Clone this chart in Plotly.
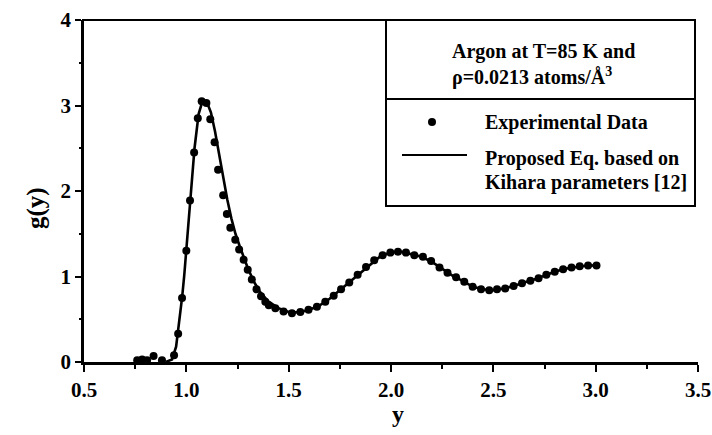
import plotly.graph_objects as go

# ---- data ----
exp_x = [0.760, 0.784, 0.808, 0.840, 0.881, 0.940, 0.960, 0.979, 1.000, 1.018, 1.038, 1.056,
         1.075, 1.098, 1.117, 1.138, 1.155, 1.180, 1.198, 1.215, 1.239, 1.258, 1.280, 1.300,
         1.320, 1.343, 1.365, 1.386, 1.403, 1.435, 1.475, 1.516, 1.557, 1.597, 1.638, 1.679,
         1.720, 1.756, 1.796, 1.837, 1.878, 1.918, 1.959, 1.997, 2.034, 2.073, 2.114, 2.156,
         2.196, 2.237, 2.276, 2.318, 2.358, 2.399, 2.440, 2.480, 2.518, 2.558, 2.599, 2.640,
         2.681, 2.721, 2.759, 2.800, 2.841, 2.882, 2.922, 2.963, 3.004]
exp_g = [0.02, 0.03, 0.02, 0.07, 0.02, 0.08, 0.33, 0.75, 1.30, 1.89, 2.45, 2.85,
         3.05, 3.03, 2.84, 2.57, 2.25, 1.95, 1.73, 1.57, 1.43, 1.315, 1.195, 1.08,
         0.965, 0.85, 0.77, 0.705, 0.665, 0.63, 0.59, 0.57, 0.585, 0.61, 0.647, 0.705,
         0.776, 0.85, 0.93, 1.02, 1.11, 1.19, 1.25, 1.28, 1.29, 1.28, 1.25, 1.23,
         1.18, 1.105, 1.045, 0.99, 0.94, 0.88, 0.85, 0.84, 0.85, 0.86, 0.89, 0.92,
         0.95, 0.98, 1.02, 1.056, 1.084, 1.106, 1.12, 1.13, 1.13]

line_x = [0.90, 0.93, 0.95, 0.96, 0.97, 0.98, 0.99, 1.00, 1.02, 1.04, 1.06, 1.08, 1.10, 1.12,
          1.14, 1.16, 1.18, 1.20, 1.22, 1.24, 1.26, 1.28, 1.30, 1.33, 1.36, 1.40, 1.45, 1.50,
          1.55, 1.60, 1.65, 1.70, 1.75, 1.80, 1.85, 1.90, 1.95, 2.00, 2.05, 2.10, 2.15, 2.20,
          2.25, 2.30, 2.35, 2.40, 2.45, 2.50, 2.55, 2.60, 2.65, 2.70, 2.75, 2.80, 2.85, 2.90,
          2.95, 3.00]
line_g = [0.00, 0.03, 0.18, 0.36, 0.55, 0.77, 1.02, 1.30, 1.95, 2.50, 2.90, 3.06, 3.04, 2.92,
          2.70, 2.43, 2.15, 1.90, 1.68, 1.50, 1.36, 1.22, 1.10, 0.94, 0.82, 0.71, 0.63, 0.585,
          0.58, 0.61, 0.66, 0.74, 0.84, 0.94, 1.05, 1.15, 1.24, 1.28, 1.29, 1.26, 1.23, 1.17,
          1.09, 1.01, 0.95, 0.88, 0.85, 0.84, 0.86, 0.89, 0.93, 0.965, 1.01, 1.056, 1.09, 1.11,
          1.125, 1.13]

x_ticks = [0.5, 1.0, 1.5, 2.0, 2.5, 3.0, 3.5]
x_ticktext = ["0.5", "1.0", "1.5", "2.0", "2.5", "3.0", "3.5"]
y_ticks = [0, 1, 2, 3, 4]
y_ticktext = ["0", "1", "2", "3", "4"]

legend_title = ["Argon at T=85 K and", "ρ=0.0213 atoms/Å<sup>3</sup>"]
legend_names = ["Experimental Data", "Proposed Eq. based on", "Kihara parameters [12]"]

# ---- layout geometry (pixels) ----
W, H = 712, 435
L, R, T, B = 84, 14, 20, 73
PW, PH = W - L - R, H - T - B
FONT = "Liberation Serif"


def px(p):
    return (p - L) / PW


def py(p):
    return (H - B - p) / PH


fig = go.Figure()
fig.add_trace(go.Scatter(x=line_x, y=line_g, mode="lines",
                         line=dict(color="black", width=2.6), showlegend=False))
fig.add_trace(go.Scatter(x=exp_x, y=exp_g, mode="markers",
                         marker=dict(color="black", size=8), showlegend=False))

shapes = [
    # top frame line
    dict(type="line", xref="paper", yref="paper", x0=px(82), x1=px(695), y0=1, y1=1,
         line=dict(color="black", width=2)),
    # legend box
    dict(type="rect", xref="paper", yref="paper", x0=px(386), x1=px(695), y0=py(20), y1=py(206),
         line=dict(color="black", width=2), fillcolor="white", layer="above"),
    dict(type="line", xref="paper", yref="paper", x0=px(386), x1=px(695), y0=py(99), y1=py(99),
         line=dict(color="black", width=2)),
    # legend line sample
    dict(type="line", xref="paper", yref="paper", x0=px(402), x1=px(467), y0=py(155), y1=py(155),
         line=dict(color="black", width=2)),
    # legend marker sample
    dict(type="circle", xref="paper", yref="paper", xsizemode="pixel", ysizemode="pixel",
         xanchor=px(432), yanchor=py(122), x0=-4, x1=4, y0=-4, y1=4,
         fillcolor="black", line=dict(color="black", width=0)),
]

tfont = dict(family=FONT, size=20, color="black", weight="bold")
annotations = [
    dict(text=legend_title[0], x=px(450), y=py(51), xanchor="left", yanchor="middle"),
    dict(text=legend_title[1], x=px(450), y=py(77), xanchor="left", yanchor="middle"),
    dict(text=legend_names[0], x=px(483), y=py(122), xanchor="left", yanchor="middle"),
    dict(text=legend_names[1], x=px(483), y=py(158), xanchor="left", yanchor="middle"),
    dict(text=legend_names[2], x=px(483), y=py(182), xanchor="left", yanchor="middle"),
    dict(text="y", x=px(398), y=py(414), xanchor="center", yanchor="middle",
         font=dict(family=FONT, size=24, color="black", weight="bold")),
    dict(text="g(y)", x=px(36), y=py(208), xanchor="center", yanchor="middle", textangle=-90,
         font=dict(family=FONT, size=25, color="black", weight="bold")),
]
for a in annotations:
    a.setdefault("font", tfont)
    a.update(xref="paper", yref="paper", showarrow=False)

axfont = dict(family=FONT, size=21, color="black", weight="bold")
fig.update_layout(
    width=W, height=H,
    margin=dict(l=L, r=R, t=T, b=B, autoexpand=False),
    paper_bgcolor="white", plot_bgcolor="white",
    showlegend=False,
    shapes=shapes, annotations=annotations,
    xaxis=dict(range=[0.5, 3.5], tickvals=x_ticks, ticktext=x_ticktext, automargin=False,
               showgrid=False, zeroline=False, showline=True, linecolor="black", linewidth=2.5,
               ticks="outside", ticklen=7, tickwidth=2, tickcolor="black",
               tickfont=axfont,
               minor=dict(dtick=0.25, ticks="outside", ticklen=4, tickwidth=2, tickcolor="black")),
    yaxis=dict(range=[0, 4], tickvals=y_ticks, ticktext=y_ticktext, automargin=False,
               showgrid=False, zeroline=False, showline=True, linecolor="black", linewidth=2.5,
               ticks="outside", ticklen=6, tickwidth=2, tickcolor="black",
               tickfont=axfont,
               minor=dict(dtick=0.5, ticks="outside", ticklen=2, tickwidth=1.5, tickcolor="black")),
)

fig.write_html("out.html", config={"displayModeBar": False},
               post_script="document.body.style.margin='0';")
